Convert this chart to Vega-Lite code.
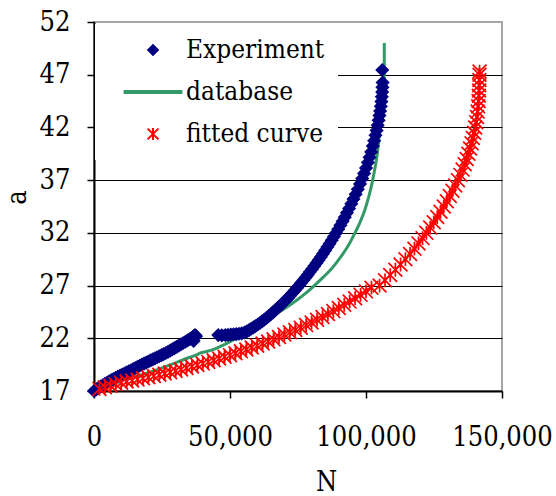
{
  "$schema": "https://vega.github.io/schema/vega-lite/v6.json",
  "autosize": {"type": "none"},
  "width": 408,
  "height": 369,
  "padding": {"left": 94, "top": 22, "right": 54, "bottom": 105},
  "background": "white",
  "config": {
    "view": {"stroke": "#a6a6a6", "strokeWidth": 2},
    "axis": {
      "labelFont": "DejaVu Serif Condensed",
      "titleFont": "DejaVu Serif Condensed",
      "labelFontSize": 27,
      "titleFontSize": 27,
      "titleFontWeight": "normal",
      "labelColor": "black",
      "titleColor": "black",
      "domainColor": "black",
      "domainWidth": 2,
      "tickColor": "black",
      "tickWidth": 1.5,
      "tickSize": 7,
      "labelFlush": false,
      "labelOverlap": false
    },
    "legend": {
      "labelFont": "DejaVu Serif Condensed",
      "labelFontSize": 26,
      "labelColor": "black",
      "labelLimit": 400
    }
  },
  "datasets": {
    "experiment": [
      {"N": 0, "a": 17.0}, {"N": 800, "a": 17.15}, {"N": 1600, "a": 17.3}, {"N": 2400, "a": 17.42},
      {"N": 3200, "a": 17.55}, {"N": 4000, "a": 17.68}, {"N": 4800, "a": 17.8}, {"N": 5600, "a": 17.92},
      {"N": 6400, "a": 18.03}, {"N": 7200, "a": 18.14}, {"N": 8000, "a": 18.25}, {"N": 8800, "a": 18.36},
      {"N": 9600, "a": 18.46}, {"N": 10400, "a": 18.56}, {"N": 11200, "a": 18.66}, {"N": 12000, "a": 18.76},
      {"N": 12800, "a": 18.86}, {"N": 13600, "a": 18.97}, {"N": 14400, "a": 19.07}, {"N": 15200, "a": 19.18},
      {"N": 16000, "a": 19.29}, {"N": 16800, "a": 19.4}, {"N": 17600, "a": 19.5}, {"N": 18400, "a": 19.6},
      {"N": 19200, "a": 19.7}, {"N": 20000, "a": 19.8}, {"N": 20800, "a": 19.9}, {"N": 21600, "a": 20.0},
      {"N": 22400, "a": 20.1}, {"N": 23200, "a": 20.2}, {"N": 24000, "a": 20.3}, {"N": 24800, "a": 20.4},
      {"N": 25600, "a": 20.5}, {"N": 26400, "a": 20.6}, {"N": 27200, "a": 20.71}, {"N": 28000, "a": 20.83},
      {"N": 28800, "a": 20.95}, {"N": 29600, "a": 21.07}, {"N": 30400, "a": 21.19}, {"N": 31200, "a": 21.31},
      {"N": 32000, "a": 21.43}, {"N": 32800, "a": 21.55}, {"N": 33600, "a": 21.67}, {"N": 34400, "a": 21.8},
      {"N": 35200, "a": 21.92}, {"N": 35800, "a": 22.02}, {"N": 36300, "a": 22.12}, {"N": 36600, "a": 21.75},
      {"N": 36900, "a": 22.25}, {"N": 37200, "a": 22.3}, {"N": 37500, "a": 22.2},
      {"N": 45700, "a": 22.3}, {"N": 47000, "a": 22.28}, {"N": 48300, "a": 22.3}, {"N": 49300, "a": 22.32},
      {"N": 50300, "a": 22.35}, {"N": 51300, "a": 22.38}, {"N": 52300, "a": 22.4}, {"N": 53300, "a": 22.43},
      {"N": 54300, "a": 22.47}, {"N": 55300, "a": 22.55}, {"N": 56200, "a": 22.65}, {"N": 57000, "a": 22.77},
      {"N": 57800, "a": 22.9}, {"N": 58600, "a": 23.03}, {"N": 59400, "a": 23.17}, {"N": 60200, "a": 23.31},
      {"N": 61000, "a": 23.45}, {"N": 61800, "a": 23.6}, {"N": 62600, "a": 23.76}, {"N": 63400, "a": 23.93},
      {"N": 64200, "a": 24.1}, {"N": 65000, "a": 24.28}, {"N": 65800, "a": 24.46}, {"N": 66600, "a": 24.65},
      {"N": 67400, "a": 24.84}, {"N": 68200, "a": 25.03}, {"N": 69000, "a": 25.23}, {"N": 69800, "a": 25.43},
      {"N": 70600, "a": 25.64}, {"N": 71400, "a": 25.85}, {"N": 72200, "a": 26.07}, {"N": 73000, "a": 26.3},
      {"N": 73800, "a": 26.53}, {"N": 74600, "a": 26.77}, {"N": 75400, "a": 27.01}, {"N": 76200, "a": 27.26},
      {"N": 77000, "a": 27.51}, {"N": 77800, "a": 27.77}, {"N": 78600, "a": 28.03}, {"N": 79400, "a": 28.3},
      {"N": 80200, "a": 28.57}, {"N": 81000, "a": 28.85}, {"N": 81800, "a": 29.13}, {"N": 82600, "a": 29.42},
      {"N": 83400, "a": 29.72}, {"N": 84200, "a": 30.02}, {"N": 85000, "a": 30.33}, {"N": 85800, "a": 30.65},
      {"N": 86600, "a": 30.97}, {"N": 87400, "a": 31.3}, {"N": 88200, "a": 31.64}, {"N": 89000, "a": 31.99},
      {"N": 89800, "a": 32.35}, {"N": 90600, "a": 32.72}, {"N": 91400, "a": 33.1}, {"N": 92200, "a": 33.49},
      {"N": 93000, "a": 33.9}, {"N": 93800, "a": 34.32}, {"N": 94600, "a": 34.76}, {"N": 95400, "a": 35.2},
      {"N": 96200, "a": 35.66}, {"N": 97000, "a": 36.14}, {"N": 97800, "a": 36.64}, {"N": 98600, "a": 37.16},
      {"N": 99300, "a": 37.64}, {"N": 100000, "a": 38.14}, {"N": 100700, "a": 38.67}, {"N": 101300, "a": 39.16},
      {"N": 101900, "a": 39.68}, {"N": 102500, "a": 40.23}, {"N": 103000, "a": 40.73}, {"N": 103500, "a": 41.26},
      {"N": 103900, "a": 41.72}, {"N": 104300, "a": 42.2}, {"N": 104650, "a": 42.67}, {"N": 104950, "a": 43.12},
      {"N": 105200, "a": 43.55}, {"N": 105450, "a": 44.0}, {"N": 105650, "a": 44.45}, {"N": 105820, "a": 44.9},
      {"N": 105950, "a": 45.35}, {"N": 106050, "a": 45.8}, {"N": 106120, "a": 46.25}, {"N": 105980, "a": 47.45}
    ],
    "database": [
      {"N": 0, "a": 17.1}, {"N": 4660, "a": 17.57}, {"N": 10780, "a": 18.04}, {"N": 16910, "a": 18.5},
      {"N": 23040, "a": 19.0}, {"N": 29150, "a": 19.6}, {"N": 35290, "a": 20.2}, {"N": 38000, "a": 20.45},
      {"N": 39000, "a": 20.6}, {"N": 41420, "a": 20.75}, {"N": 44500, "a": 21.0}, {"N": 47530, "a": 21.36},
      {"N": 50500, "a": 21.75}, {"N": 52450, "a": 22.0}, {"N": 55000, "a": 22.4}, {"N": 57500, "a": 22.75},
      {"N": 59800, "a": 23.1}, {"N": 62500, "a": 23.6}, {"N": 65920, "a": 24.2}, {"N": 69000, "a": 24.65},
      {"N": 72050, "a": 25.16}, {"N": 75000, "a": 25.7}, {"N": 78180, "a": 26.35}, {"N": 81000, "a": 27.0},
      {"N": 84300, "a": 27.8}, {"N": 87000, "a": 28.5}, {"N": 89500, "a": 29.3}, {"N": 91500, "a": 30.0},
      {"N": 93500, "a": 30.8}, {"N": 95950, "a": 32.0}, {"N": 97800, "a": 33.0}, {"N": 99600, "a": 34.2},
      {"N": 101100, "a": 35.5}, {"N": 102440, "a": 37.0}, {"N": 103400, "a": 38.3}, {"N": 104200, "a": 39.6},
      {"N": 104750, "a": 40.9}, {"N": 105130, "a": 42.0}, {"N": 105500, "a": 43.2}, {"N": 105900, "a": 44.3},
      {"N": 106300, "a": 45.2}, {"N": 106600, "a": 45.8}, {"N": 106720, "a": 46.5}, {"N": 106720, "a": 50.0}
    ],
    "fitted": [
      {"N": 2000, "a": 17.2}, {"N": 4000, "a": 17.35}, {"N": 6000, "a": 17.5}, {"N": 8000, "a": 17.65},
      {"N": 10000, "a": 17.78}, {"N": 12000, "a": 17.9}, {"N": 14000, "a": 18.0}, {"N": 16000, "a": 18.1},
      {"N": 18000, "a": 18.2}, {"N": 20000, "a": 18.3}, {"N": 22000, "a": 18.42}, {"N": 24000, "a": 18.54},
      {"N": 26000, "a": 18.66}, {"N": 28000, "a": 18.78}, {"N": 30000, "a": 18.9}, {"N": 32000, "a": 19.04},
      {"N": 34000, "a": 19.18}, {"N": 36000, "a": 19.32}, {"N": 38000, "a": 19.46}, {"N": 40000, "a": 19.6},
      {"N": 42000, "a": 19.76}, {"N": 44000, "a": 19.92}, {"N": 46000, "a": 20.08}, {"N": 48000, "a": 20.24},
      {"N": 50000, "a": 20.4}, {"N": 52000, "a": 20.58}, {"N": 54000, "a": 20.76}, {"N": 56000, "a": 20.94},
      {"N": 58000, "a": 21.12}, {"N": 60000, "a": 21.3}, {"N": 62000, "a": 21.5}, {"N": 64000, "a": 21.7},
      {"N": 66000, "a": 21.9}, {"N": 68000, "a": 22.12}, {"N": 70000, "a": 22.35}, {"N": 72000, "a": 22.57},
      {"N": 74000, "a": 22.79}, {"N": 76000, "a": 23.01}, {"N": 78000, "a": 23.25}, {"N": 80000, "a": 23.5},
      {"N": 82000, "a": 23.76}, {"N": 84000, "a": 24.02}, {"N": 86000, "a": 24.3}, {"N": 88000, "a": 24.58},
      {"N": 90000, "a": 24.87}, {"N": 92000, "a": 25.17}, {"N": 94000, "a": 25.48}, {"N": 96000, "a": 25.8},
      {"N": 98000, "a": 26.12}, {"N": 100000, "a": 26.45}, {"N": 102000, "a": 26.8}, {"N": 105000, "a": 27.0},
      {"N": 107000, "a": 27.5}, {"N": 108900, "a": 28.0}, {"N": 110800, "a": 28.5}, {"N": 112700, "a": 29.0},
      {"N": 114500, "a": 29.5}, {"N": 116200, "a": 30.0}, {"N": 117800, "a": 30.5}, {"N": 119300, "a": 31.0},
      {"N": 120800, "a": 31.5}, {"N": 122200, "a": 32.0}, {"N": 123600, "a": 32.5}, {"N": 124900, "a": 33.0},
      {"N": 126200, "a": 33.5}, {"N": 127400, "a": 34.0}, {"N": 128600, "a": 34.5}, {"N": 129700, "a": 35.0},
      {"N": 130800, "a": 35.5}, {"N": 131800, "a": 36.0}, {"N": 132800, "a": 36.5}, {"N": 133800, "a": 37.0},
      {"N": 134700, "a": 37.5}, {"N": 135500, "a": 38.0}, {"N": 136300, "a": 38.5}, {"N": 137000, "a": 39.0},
      {"N": 137650, "a": 39.5}, {"N": 138250, "a": 40.0}, {"N": 138800, "a": 40.5}, {"N": 139300, "a": 41.0},
      {"N": 139750, "a": 41.5}, {"N": 140150, "a": 42.0}, {"N": 140500, "a": 42.5}, {"N": 140800, "a": 43.0},
      {"N": 141050, "a": 43.5}, {"N": 141250, "a": 44.0}, {"N": 141400, "a": 44.5}, {"N": 141500, "a": 45.0},
      {"N": 141580, "a": 45.5}, {"N": 141640, "a": 46.0}, {"N": 141690, "a": 46.5}, {"N": 141730, "a": 47.0},
      {"N": 141750, "a": 47.3}
    ]
  },
  "encoding": {
    "x": {
      "field": "N",
      "type": "quantitative",
      "scale": {"domain": [0, 150000], "nice": false, "zero": false},
      "axis": {
        "values": [0, 50000, 100000, 150000],
        "format": ",d",
        "grid": false,
        "labelPadding": 26,
        "title": "N",
        "titleX": 232,
        "titleY": 91,
        "titleBaseline": "middle",
        "titleAlign": "center"
      }
    },
    "y": {
      "field": "a",
      "type": "quantitative",
      "scale": {"domain": [17, 52], "nice": false, "zero": false},
      "axis": {
        "values": [17, 22, 27, 32, 37, 42, 47, 52],
        "grid": true,
        "gridColor": {"condition": {"test": "datum.value === 52", "value": "transparent"}, "value": "black"},
        "gridWidth": 1.2,
        "labelPadding": 17,
        "title": "a",
        "titleAngle": -90,
        "titleX": -77,
        "titleY": 175,
        "titleBaseline": "middle",
        "titleAlign": "center"
      }
    }
  },
  "layer": [
    {
      "data": {"name": "database"},
      "mark": {"type": "line", "strokeWidth": 3, "interpolate": "monotone"},
      "encoding": {
        "order": {"field": "a", "type": "quantitative"},
        "color": {
          "datum": "database",
          "scale": {"domain": ["Experiment", "database", "fitted curve"], "range": ["#000080", "#339966", "#FF0000"]},
          "legend": {
            "title": null,
            "orient": "none",
            "legendX": 1,
            "legendY": 2,
            "padding": 13,
            "fillColor": "white",
            "symbolSize": 144,
            "symbolOffset": 32,
            "labelOffset": 20,
            "rowPadding": 16,
            "encode": {
              "symbols": {
                "update": {
                  "shape": {"signal": "datum.value === 'Experiment' ? 'diamond' : datum.value === 'database' ? 'M-4.9,0L4.9,0' : 'M-0.9,-0.9L0.9,0.9M-0.9,0.9L0.9,-0.9M0,-1L0,1'"},
                  "fill": {"signal": "datum.value === 'Experiment' ? '#000080' : 'transparent'"},
                  "stroke": {"signal": "datum.value === 'Experiment' ? '#000080' : datum.value === 'database' ? '#339966' : '#FF0000'"},
                  "strokeWidth": {"signal": "datum.value === 'database' ? 4 : datum.value === 'Experiment' ? 0.5 : 2"},
                  "size": {"value": 144},
                  "opacity": {"value": 1}
                }
              }
            }
          }
        }
      }
    },
    {
      "data": {"name": "experiment"},
      "mark": {"type": "point", "shape": "diamond", "filled": true, "size": 200, "opacity": 1},
      "encoding": {
        "color": {"datum": "Experiment"}
      }
    },
    {
      "data": {"name": "fitted"},
      "mark": {"type": "point", "shape": "M-1,-1L1,1M-1,1L1,-1M0,-1L0,1", "filled": false, "size": 190, "strokeWidth": 1.7, "opacity": 1},
      "encoding": {
        "color": {"datum": "fitted curve"}
      }
    }
  ]
}
